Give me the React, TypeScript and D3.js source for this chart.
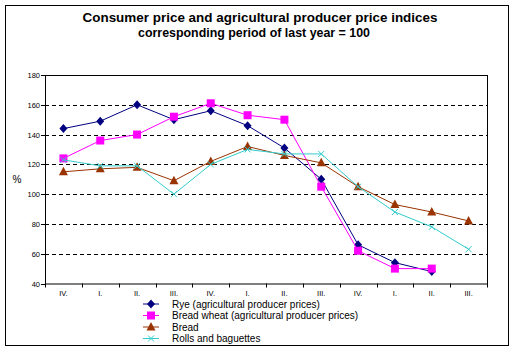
import React from "react";
import * as d3 from "d3";

const categories = ["IV.", "I.", "II.", "III.", "IV.", "I.", "II.", "III.", "IV.", "I.", "II.", "III."];
const rye = [144, 149, 160, 150, 156, 146, 131, 110, 66, 54, 48];
const breadWheat = [124, 136, 140, 152, 161, 153, 150, 105, 62, 50, 50];
const bread = [115, 117, 118, 109, 122, 132, 126, 121, 105, 93, 88, 82];
const rolls = [123, 119, 119, 100, 120, 130, 127, 127, 105, 88, 78, 63];
const yTicks = [40, 60, 80, 100, 120, 140, 160, 180];
const seriesNames = [
  "Rye (agricultural producer prices)",
  "Bread wheat (agricultural producer prices)",
  "Bread",
  "Rolls and baguettes",
];

const W = 514, H = 351;
const left = 45, right = 487, top = 75, bottom = 283.5;
const FONT = "'Liberation Sans', Arial, sans-serif";

export default function App() {
  const x = d3.scaleBand<number>().domain(categories.map((_, i) => i)).range([left, right]);
  const cx = (i: number) => (x(i) as number) + x.bandwidth() / 2;
  const y = d3.scaleLinear().domain([40, 180]).range([bottom, top]);
  const line = d3.line<number>().x((_, i) => cx(i)).y((d) => y(d));

  const series = [
    { name: seriesNames[0], data: rye, color: "#000080", marker: "diamond" },
    { name: seriesNames[1], data: breadWheat, color: "#FF00FF", marker: "square" },
    { name: seriesNames[2], data: bread, color: "#993300", marker: "triangle" },
    { name: seriesNames[3], data: rolls, color: "#33CCCC", marker: "x" },
  ];

  const marker = (type: string, px: number, py: number, color: string, key: string) => {
    if (type === "diamond") {
      return <path key={key} d={`M${px},${py - 4.5}L${px + 4},${py}L${px},${py + 4.5}L${px - 4},${py}Z`} fill={color} />;
    }
    if (type === "square") {
      return <rect key={key} x={px - 4} y={py - 4} width={8} height={8} fill={color} />;
    }
    if (type === "triangle") {
      return <path key={key} d={`M${px},${py - 5}L${px + 4.5},${py + 3.5}L${px - 4.5},${py + 3.5}Z`} fill={color} />;
    }
    return (
      <path key={key} d={`M${px - 3},${py - 3}L${px + 3},${py + 3}M${px + 3},${py - 3}L${px - 3},${py + 3}`} stroke={color} strokeWidth={1} fill="none" />
    );
  };

  return (
    <svg width={W} height={H} style={{ position: "absolute", left: 0, top: 0, background: "#fff" }} fontFamily={FONT}>
      <rect x={5.5} y={5.5} width={503} height={340} fill="#fff" stroke="#000" strokeWidth={1} />
      <text x={260} y={21.5} textAnchor="middle" fontSize={13.5} fontWeight="bold" textLength={355} lengthAdjust="spacingAndGlyphs">
        Consumer price and agricultural producer price indices
      </text>
      <text x={254} y={36.5} textAnchor="middle" fontSize={12.4} fontWeight="bold" textLength={232} lengthAdjust="spacingAndGlyphs">
        corresponding period of last year = 100
      </text>

      {/* gridlines */}
      {yTicks.filter((t) => t !== 40 && t !== 180).map((t) => (
        <line key={"g" + t} x1={left} x2={right} y1={Math.round(y(t)) + 0.5} y2={Math.round(y(t)) + 0.5} stroke="#000" strokeDasharray="4,3" />
      ))}
      {/* plot border */}
      <rect x={left + 0.5} y={top + 0.5} width={right - left} height={bottom - top} fill="none" stroke="#000" />
      {/* y ticks */}
      {yTicks.map((t) => (
        <g key={"y" + t}>
          <line x1={left - 4} x2={left} y1={Math.round(y(t)) + 0.5} y2={Math.round(y(t)) + 0.5} stroke="#000" />
          <text x={40} y={y(t) + 3} textAnchor="end" fontSize={7.5}>{t}</text>
        </g>
      ))}
      {/* x ticks */}
      {categories.map((_, i) => (
        <line key={"xt" + i} x1={Math.round(x(i) as number) + 0.5} x2={Math.round(x(i) as number) + 0.5} y1={bottom} y2={bottom + 4} stroke="#000" />
      ))}
      <line x1={right + 0.5} x2={right + 0.5} y1={bottom} y2={bottom + 4} stroke="#000" />
      {categories.map((c, i) => (
        <text key={"xl" + i} x={cx(i)} y={bottom + 12} textAnchor="middle" fontSize={7.5}>{c}</text>
      ))}
      <text x={17} y={183} textAnchor="middle" fontSize={10}>%</text>

      {/* series */}
      {series.map((s, si) => (
        <g key={"s" + si}>
          <path d={line(s.data) || ""} fill="none" stroke={s.color} strokeWidth={1} />
          {s.data.map((d, i) => marker(s.marker, cx(i), y(d), s.color, `m${si}-${i}`))}
        </g>
      ))}

      {/* legend */}
      {series.map((s, si) => {
        const ly = 304 + si * 11.5;
        return (
          <g key={"l" + si}>
            <line x1={143} x2={159} y1={ly} y2={ly} stroke={s.color} />
            {marker(s.marker, 151, ly, s.color, "lm" + si)}
            <text x={172} y={ly + 3.7} fontSize={10}>{s.name}</text>
          </g>
        );
      })}
    </svg>
  );
}
